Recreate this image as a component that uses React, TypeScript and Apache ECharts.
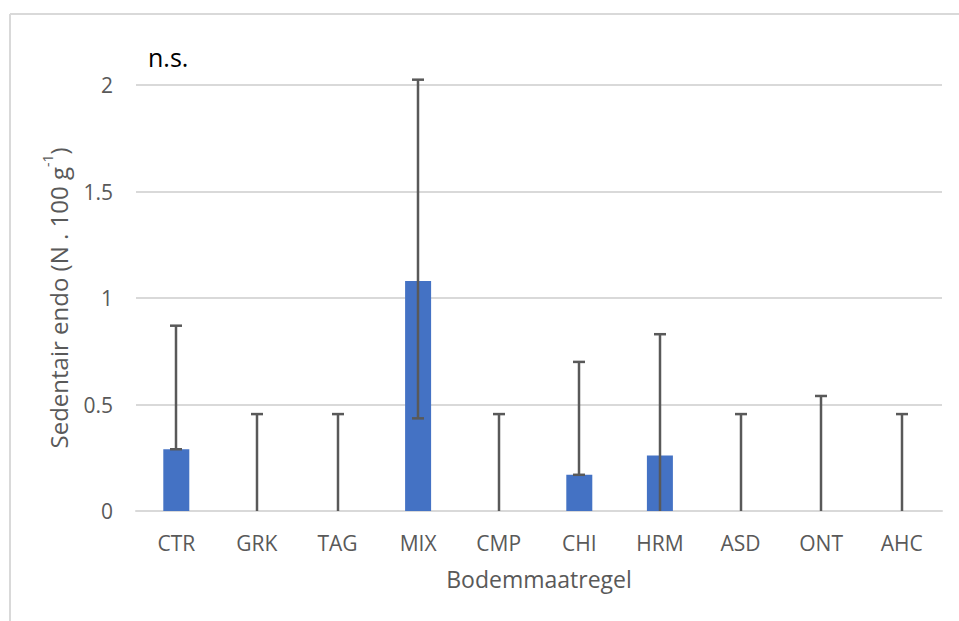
import React, { useEffect, useRef } from "react";
import * as echarts from "echarts";

const categories = ["CTR", "GRK", "TAG", "MIX", "CMP", "CHI", "HRM", "ASD", "ONT", "AHC"];
const means = [0.29, 0, 0, 1.08, 0, 0.17, 0.26, 0, 0, 0];
const errLow = [0.29, 0, 0, 0.435, 0, 0.17, 0, 0, 0, 0];
const errHigh = [0.87, 0.455, 0.455, 2.025, 0.455, 0.70, 0.83, 0.455, 0.54, 0.455];
const yTicks = [0, 0.5, 1, 1.5, 2];

export default function App() {
  const ref = useRef<HTMLDivElement>(null);
  useEffect(() => {
    if (!ref.current) return;
    const chart = echarts.init(ref.current, null, { renderer: "svg" });
    const font = "'Open Sans', sans-serif";
    const errData = categories.map((_, i) => [i, errLow[i], errHigh[i]]);
    chart.setOption({
      animation: false,
      backgroundColor: "#ffffff",
      grid: { left: 136, right: 17, top: 85, bottom: 110, containLabel: false },
      graphic: [
        { type: "line", shape: { x1: 10, y1: 14, x2: 959, y2: 14 }, style: { stroke: "#d9d9d9", lineWidth: 2 } },
        { type: "line", shape: { x1: 10, y1: 14, x2: 10, y2: 621 }, style: { stroke: "#d9d9d9", lineWidth: 2 } },
        {
          type: "text",
          left: 148,
          top: 44,
          style: { text: "n.s.", fontSize: 25, fill: "#000000", fontFamily: font },
        },
      ],
      xAxis: {
        type: "category",
        data: categories,
        name: "Bodemmaatregel",
        nameLocation: "middle",
        nameGap: 56,
        nameTextStyle: { fontSize: 23, color: "#595959", fontFamily: font, verticalAlign: "top" },
        axisLine: { show: true, lineStyle: { color: "#d9d9d9", width: 2 } },
        axisTick: { show: false },
        axisLabel: { color: "#595959", fontSize: 21, fontFamily: font, margin: 21 },
      },
      yAxis: {
        type: "value",
        min: 0,
        max: 2,
        interval: 0.5,
        name: "{a|Sedentair endo (N . 100 g}{s|-1}{a|)}",
        nameLocation: "middle",
        nameRotate: 90,
        nameGap: 66,
        nameTextStyle: {
          color: "#595959",
          fontFamily: font,
          rich: {
            a: { fontSize: 24, color: "#595959", fontFamily: font, lineHeight: 30, verticalAlign: "bottom" },
            s: { fontSize: 14, color: "#595959", fontFamily: font, lineHeight: 30, verticalAlign: "top" },
          },
        },
        axisLine: { show: false },
        axisTick: { show: false },
        splitLine: { lineStyle: { color: "#d9d9d9", width: 2 } },
        axisLabel: {
          color: "#595959",
          fontSize: 21,
          fontFamily: font,
          margin: 23,
          formatter: (v: number) => (yTicks.includes(v) ? String(v) : ""),
        },
      },
      series: [
        {
          type: "bar",
          data: means,
          barWidth: 26,
          itemStyle: { color: "#4472C4" },
        },
        {
          type: "custom",
          clip: false,
          z: 5,
          data: errData,
          renderItem: (params: any, api: any) => {
            const idx = api.value(0);
            const lo = api.value(1);
            const hi = api.value(2);
            const pLo = api.coord([idx, lo]);
            const pHi = api.coord([idx, hi]);
            const x = Math.round(pLo[0]);
            const cw = 6;
            const style = { stroke: "#595959", lineWidth: 2.5 };
            const children: any[] = [
              { type: "line", shape: { x1: x, y1: pLo[1], x2: x, y2: pHi[1] }, style },
              { type: "line", shape: { x1: x - cw, y1: pHi[1], x2: x + cw, y2: pHi[1] }, style },
            ];
            if (lo > 0) {
              children.push({ type: "line", shape: { x1: x - cw, y1: pLo[1], x2: x + cw, y2: pLo[1] }, style });
            }
            return { type: "group", children };
          },
        },
      ],
    });
    return () => chart.dispose();
  }, []);
  return (
    <div
      ref={ref}
      style={{ position: "fixed", left: 0, top: 0, width: 959, height: 621, background: "#fff" }}
    />
  );
}
